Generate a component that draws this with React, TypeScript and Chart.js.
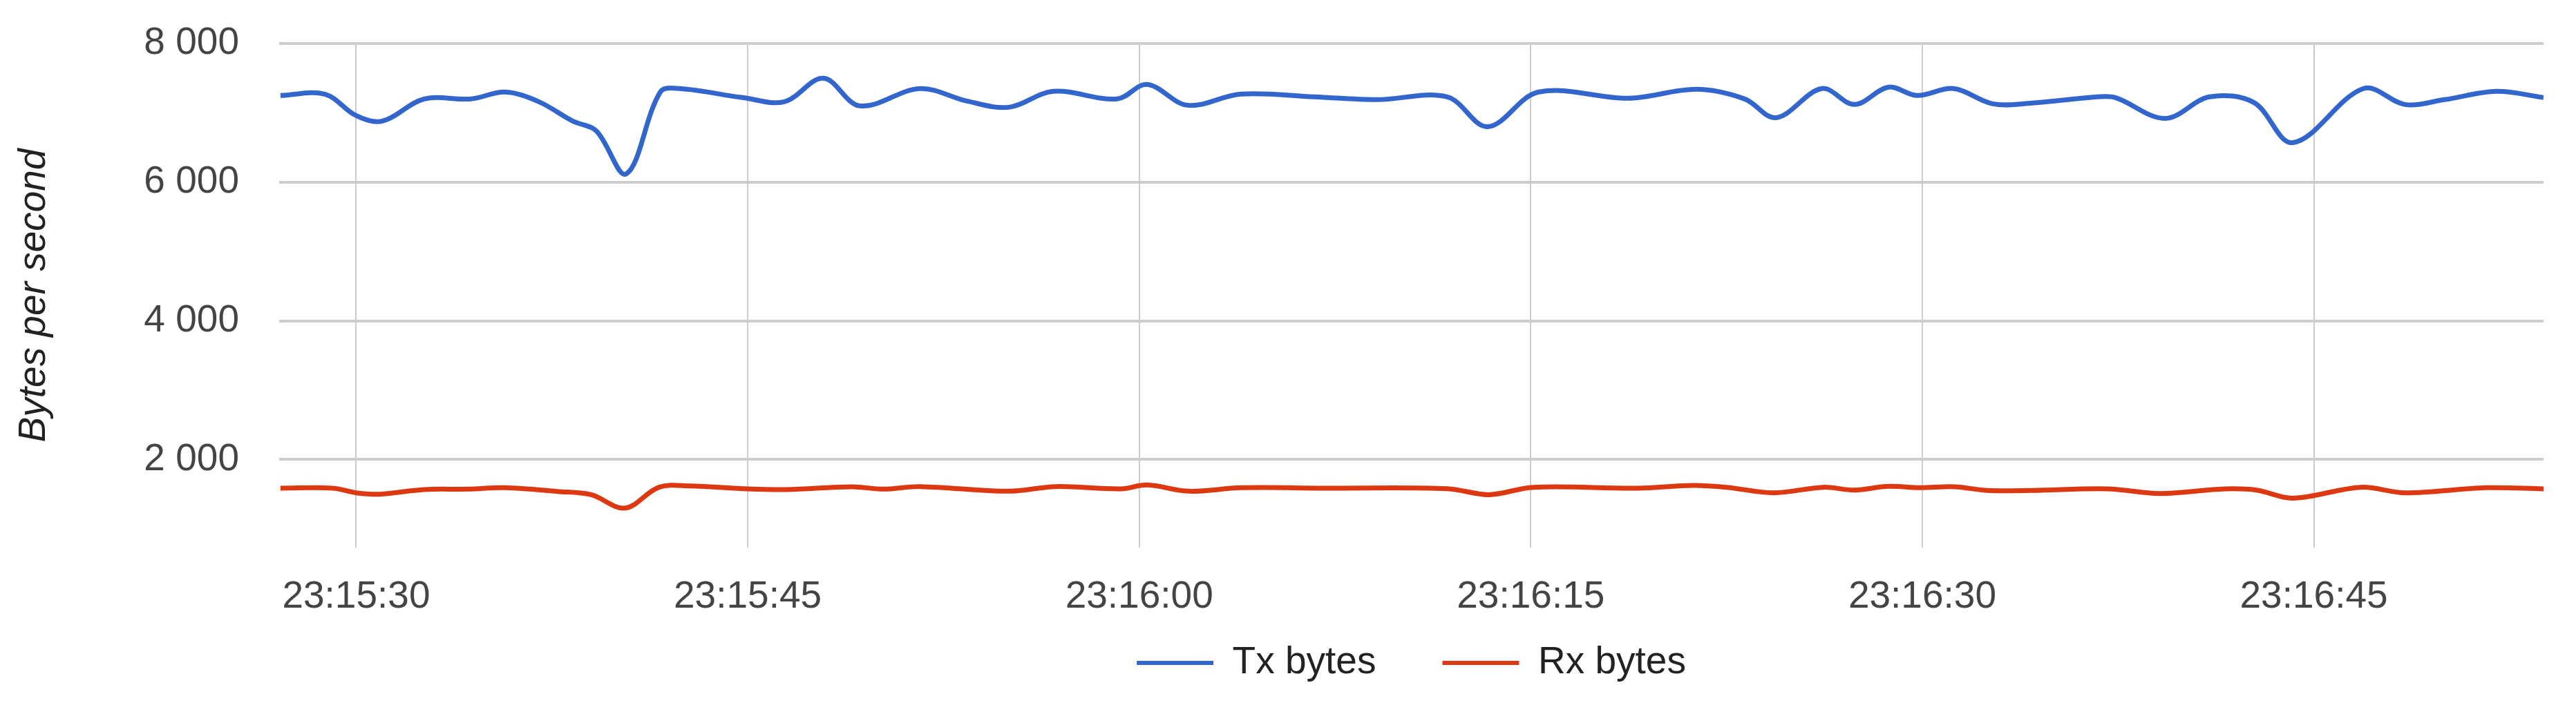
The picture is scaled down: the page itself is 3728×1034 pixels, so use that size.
import React, { useEffect, useRef } from "react";
import { Chart, registerables } from "chart.js";

Chart.register(...registerables);

// seconds after 23:15:00
const txTimes = [27.1, 28.8, 30.0, 31.0, 32.6, 34.4, 35.7, 37.0, 38.3, 39.2, 40.35, 41.65, 42.4, 44.8, 46.4, 47.9, 49.3, 51.6, 53.4, 55.0, 56.7, 59.15, 60.3, 61.85, 63.9, 66.7, 69.1, 71.8, 73.35, 75.3, 78.75, 81.35, 83.2, 84.4, 86.15, 87.4, 88.7, 89.8, 91.2, 92.7, 94.2, 96.7, 97.4, 99.3, 101.0, 102.7, 104.2, 106.9, 108.5, 110.0, 112.0, 113.8];
const txValues = [7250, 7270, 6960, 6880, 7200, 7200, 7300, 7160, 6880, 6740, 6120, 7300, 7350, 7220, 7160, 7500, 7100, 7350, 7170, 7080, 7310, 7200, 7410, 7110, 7270, 7230, 7190, 7230, 6800, 7300, 7210, 7340, 7200, 6930, 7350, 7120, 7370, 7250, 7350, 7130, 7140, 7230, 7220, 6920, 7230, 7150, 6570, 7350, 7120, 7190, 7310, 7220];

const rxTimes = [27.1, 29.1, 30.0, 30.9, 32.6, 34.3, 35.7, 37.7, 39.0, 40.3, 41.6, 42.8, 45.0, 46.5, 49.0, 50.2, 51.6, 55.0, 56.8, 59.3, 60.3, 61.9, 63.9, 67.0, 71.8, 73.4, 75.1, 79.1, 81.2, 82.5, 84.3, 86.2, 87.4, 88.7, 89.9, 91.25, 92.5, 94.2, 97.1, 99.1, 101.6, 102.8, 104.2, 106.8, 108.5, 111.6, 113.8];
const rxValues = [1587, 1587, 1520, 1500, 1567, 1573, 1593, 1540, 1493, 1300, 1600, 1620, 1577, 1567, 1607, 1573, 1610, 1543, 1610, 1577, 1633, 1543, 1593, 1587, 1580, 1493, 1600, 1587, 1627, 1600, 1520, 1600, 1560, 1613, 1593, 1607, 1553, 1553, 1577, 1510, 1577, 1560, 1443, 1600, 1520, 1593, 1577];

const seriesNames = ["Tx bytes", "Rx bytes"];
const seriesColors = ["#3366CC", "#DC3912"];
const yTickValues = [2000, 4000, 6000, 8000];
const xTickSeconds = [30, 45, 60, 75, 90, 105];
const yTitle = "Bytes per second";

const FONT = "'Liberation Sans', Arial, Helvetica, sans-serif";

function fmtNum(v: number): string {
  return Math.round(v).toString().replace(/\B(?=(\d{3})+(?!\d))/g, " ");
}
function fmtTime(sec: number): string {
  const total = 23 * 3600 + 15 * 60 + Math.round(sec);
  const h = Math.floor(total / 3600);
  const m = Math.floor((total % 3600) / 60);
  const s = total % 60;
  const p = (n: number) => (n < 10 ? "0" : "") + n;
  return `${p(h)}:${p(m)}:${p(s)}`;
}

const LEGEND_TEXT_CENTER = 960;
const LEGEND_PAD = 96;
const LEGEND_FONT = 55;

const legendShift = {
  id: "legendShift",
  afterLayout(chart: any) {
    const lg = chart.legend;
    if (!lg) return;
    const h = lg.height;
    lg.left = chart.chartArea.left;
    lg.right = chart.chartArea.right;
    lg.top = LEGEND_TEXT_CENTER - LEGEND_PAD - LEGEND_FONT / 2;
    lg.bottom = lg.top + h;
  },
};

export default function App() {
  const ref = useRef<HTMLCanvasElement | null>(null);
  useEffect(() => {
    if (!ref.current) return;
    Chart.defaults.font.family = FONT;
    const chart = new Chart(ref.current, {
      type: "line",
      data: {
        datasets: [
          {
            label: seriesNames[0],
            data: txTimes.map((t, i) => ({ x: t, y: txValues[i] })),
            borderColor: seriesColors[0],
            backgroundColor: seriesColors[0],
            borderWidth: 7,
            pointRadius: 0,
            tension: 0.35,
            fill: false,
          },
          {
            label: seriesNames[1],
            data: rxTimes.map((t, i) => ({ x: t, y: rxValues[i] })),
            borderColor: seriesColors[1],
            backgroundColor: seriesColors[1],
            borderWidth: 7,
            pointRadius: 0,
            tension: 0.35,
            fill: false,
          },
        ],
      },
      options: {
        animation: false,
        responsive: true,
        maintainAspectRatio: false,
        layout: { padding: { left: 0, right: 47, top: 63, bottom: -30 } },
        plugins: {
          tooltip: { enabled: false },
          legend: {
            position: "bottom",
            labels: {
              boxWidth: 111,
              boxHeight: 6,
              padding: LEGEND_PAD,
              color: "#222222",
              font: { size: LEGEND_FONT, family: FONT },
              generateLabels: (c: any) =>
                c.data.datasets.map((d: any, i: number) => ({
                  text: d.label,
                  fillStyle: seriesColors[i],
                  strokeStyle: seriesColors[i],
                  lineWidth: 0,
                  hidden: false,
                  datasetIndex: i,
                  fontColor: "#222222",
                })),
            },
          },
        },
        scales: {
          x: {
            type: "linear",
            min: txTimes[0] - 0.05,
            max: txTimes[txTimes.length - 1],
            bounds: "data",
            afterFit: (s: any) => {
              s.height = 110;
            },
            afterBuildTicks: (s: any) => {
              s.ticks = xTickSeconds.map((v) => ({ value: v }));
            },
            ticks: {
              stepSize: 15,
              includeBounds: false,
              padding: 39,
              color: "#444444",
              font: { size: 55, family: FONT },
              maxRotation: 0,
              autoSkip: false,
              callback: (v: any) => fmtTime(Number(v)),
            },
            grid: { color: "#cccccc", lineWidth: 2, drawTicks: false },
            border: { display: false },
          },
          y: {
            type: "linear",
            min: 730,
            max: 8000,
            bounds: "data",
            afterFit: (s: any) => {
              s.width = 404;
              s.paddingTop = 0;
              s.paddingBottom = 0;
            },
            afterBuildTicks: (s: any) => {
              s.ticks = yTickValues.map((v) => ({ value: v }));
            },
            ticks: {
              stepSize: 2000,
              includeBounds: false,
              padding: 58,
              color: "#444444",
              font: { size: 55, family: FONT },
              callback: (v: any) => fmtNum(Number(v)),
            },
            grid: { color: "#cccccc", lineWidth: 4, drawTicks: false },
            border: { display: false },
            title: {
              display: true,
              text: yTitle,
              color: "#222222",
              font: { size: 55, style: "italic", family: FONT },
              padding: { top: 17, bottom: 0 },
            },
          },
        },
      },
      plugins: [legendShift],
    } as any);
    return () => chart.destroy();
  }, []);

  return (
    <div
      style={{
        position: "fixed",
        left: 0,
        top: 0,
        width: "3728px",
        height: "1034px",
        background: "#ffffff",
      }}
    >
      <canvas ref={ref} />
    </div>
  );
}
